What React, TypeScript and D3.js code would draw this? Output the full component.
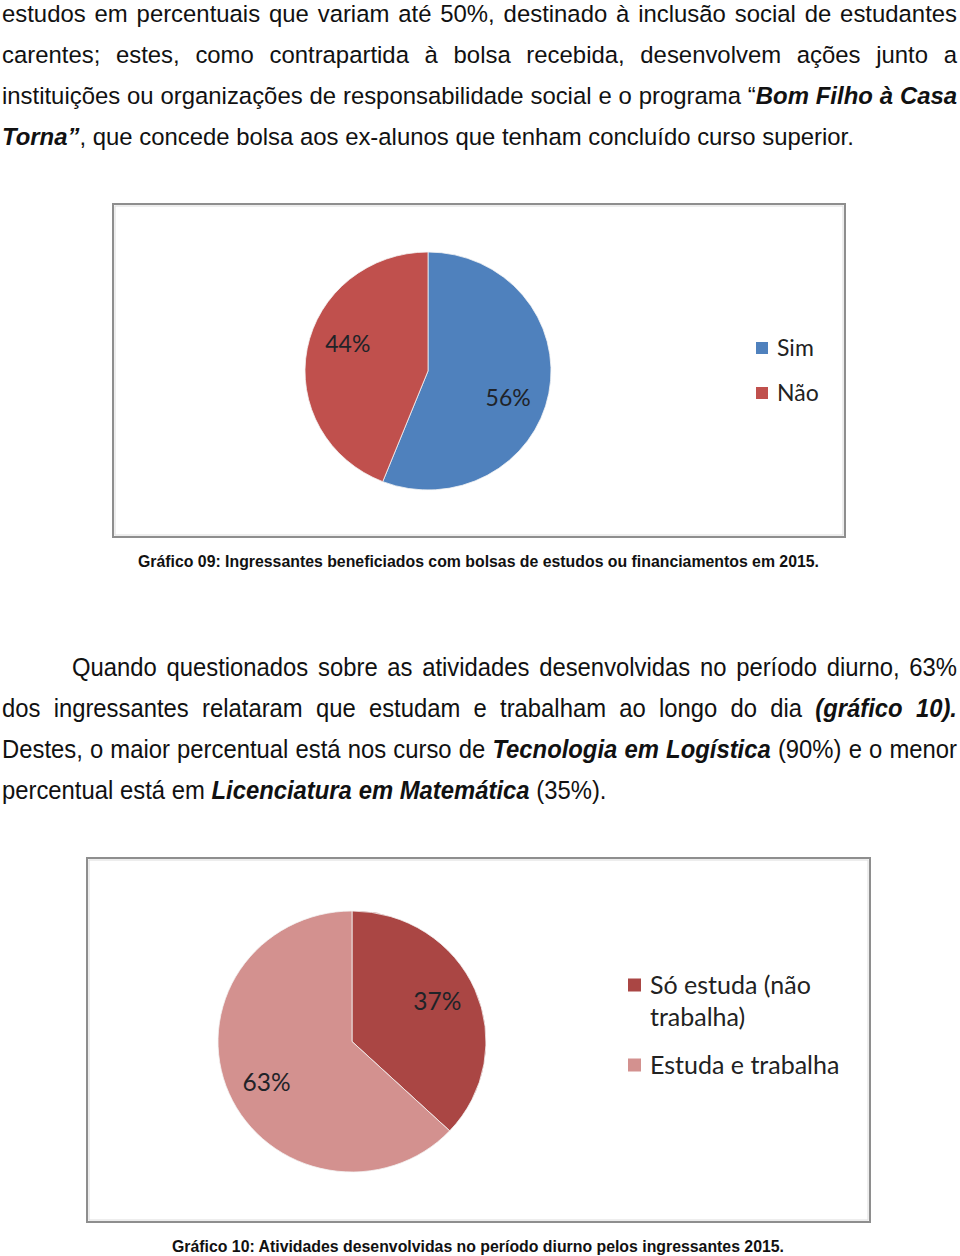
import React, { useEffect, useRef } from "react";
import * as d3 from "d3";

// ---------- data ----------
const para1Lines = [
  "estudos em percentuais que variam até 50%, destinado à inclusão social de estudantes",
  "carentes; estes, como contrapartida à bolsa recebida, desenvolvem ações junto a",
  "instituições ou organizações de responsabilidade social e o programa “*Bom Filho à Casa*",
  "*Torna”*, que concede bolsa aos ex-alunos que tenham concluído curso superior.",
];
const para1Justify = [true, true, true, false];

const para2Lines = [
  "Quando questionados sobre as atividades desenvolvidas no período diurno, 63%",
  "dos ingressantes relataram que estudam e trabalham ao longo do dia *(gráfico 10).*",
  "Destes, o maior percentual está nos curso de *Tecnologia em Logística* (90%) e o menor",
  "percentual está em *Licenciatura em Matemática* (35%).",
];
const para2Justify = [true, true, true, false];

const chart1Categories = ["Sim", "Não"];
const chart1Values = [56, 44];
const chart1Colors = ["#4F81BD", "#C0504D"];
const chart1LegendLines = [["Sim"], ["Não"]];
const chart1Caption =
  "Gráfico 09: Ingressantes beneficiados com bolsas de estudos ou financiamentos em 2015.";

const chart2Categories = ["Só estuda (não trabalha)", "Estuda e trabalha"];
const chart2Values = [37, 63];
const chart2Colors = ["#AA4644", "#D3918F"];
const chart2LegendLines = [["Só estuda (não", "trabalha)"], ["Estuda e trabalha"]];
const chart2Caption =
  "Gráfico 10: Atividades desenvolvidas no período diurno pelos ingressantes 2015.";

// ---------- styles ----------
const bodyFont = "'Liberation Sans', Arial, Helvetica, sans-serif";
const chartFont = "Lato, 'Open Sans', sans-serif";

export default function App() {
  const ref = useRef<SVGSVGElement | null>(null);

  useEffect(() => {
    const svg = d3.select(ref.current);
    svg.selectAll("*").remove();

    const drawParagraph = (
      lines: string[],
      justify: boolean[],
      font: string,
      size: number,
      sx: number,
      left: number,
      right: number,
      firstIndent: number,
      baselines: number[]
    ) => {
      const g = svg.append("g").attr("font-family", font).attr("font-size", size).attr("fill", "#111");
      const t1 = g.append("text").style("white-space", "pre").text("a a");
      const t2 = g.append("text").style("white-space", "pre").text("aa");
      const spaceW =
        ((t1.node() as SVGTextElement).getComputedTextLength() -
          (t2.node() as SVGTextElement).getComputedTextLength()) * sx;
      t1.remove();
      t2.remove();
      lines.forEach((line, li) => {
        let bold = false;
        const words = line.split(" ");
        const els: any[] = [];
        const widths: number[] = [];
        words.forEach((w) => {
          const t = g.append("text");
          const parts = w.split("*");
          parts.forEach((p, i) => {
            if (i > 0) bold = !bold;
            if (p.length)
              t.append("tspan")
                .attr("font-weight", bold ? "bold" : "normal")
                .attr("font-style", bold ? "italic" : "normal")
                .text(p);
          });
          els.push(t);
          widths.push((t.node() as SVGTextElement).getComputedTextLength() * sx);
        });
        const start = left + (li === 0 ? firstIndent : 0);
        const total = d3.sum(widths);
        const gap =
          justify[li] && words.length > 1 ? (right - start - total) / (words.length - 1) : spaceW;
        let x = start;
        els.forEach((t, i) => {
          t.attr("transform", `translate(${x},${baselines[li]}) scale(${sx},1)`);
          x += widths[i] + gap;
        });
      });
    };

    drawParagraph(para1Lines, para1Justify, bodyFont, 23.9, 1, 2, 957, 0, [22, 63, 104, 145]);
    drawParagraph(para2Lines, para2Justify, bodyFont, 26.5, 0.9, 2, 957, 70, [676, 717, 758, 799]);

    const drawChart = (
      frame: [number, number, number, number],
      cx: number,
      cy: number,
      rx: number,
      ry: number,
      cats: string[],
      values: number[],
      colors: string[],
      legendLines: string[][],
      legendX: number,
      legendY: number[],
      legendSize: number,
      legendLead: number,
      sq: number,
      labelSize: number,
      labelR: number,
      labelRot: number
    ) => {
      const [fx, fy, fw, fh] = frame;
      svg.append("rect")
        .attr("x", fx).attr("y", fy).attr("width", fw).attr("height", fh)
        .attr("fill", "#fff").attr("stroke", "#8e8e8e").attr("stroke-width", 2);
      svg.append("rect")
        .attr("x", fx + 2).attr("y", fy + 2).attr("width", fw - 4).attr("height", fh - 4)
        .attr("fill", "none").attr("stroke", "#dcdcdc").attr("stroke-width", 1);

      const data = cats.map((c, i) => ({ cat: c, value: values[i], color: colors[i] }));
      const pie = d3.pie<any>().sort(null).value((d: any) => d.value);
      const arcs = pie(data);
      const arc = d3.arc<any>().innerRadius(0).outerRadius(rx);
      const k = ry / rx;
      const pg = svg.append("g").attr("transform", `translate(${cx},${cy}) scale(1,${k})`);
      pg.selectAll("path").data(arcs).join("path")
        .attr("d", arc as any)
        .attr("fill", (d: any) => d.data.color)
        .attr("stroke", "#f4f4f4").attr("stroke-width", 0.8);

      const labelPos = (d: any) => {
        const a = (d.startAngle + d.endAngle) / 2 + labelRot;
        return [cx + Math.sin(a) * labelR, cy - Math.cos(a) * labelR * k];
      };
      svg.append("g")
        .attr("font-family", chartFont).attr("font-size", labelSize).attr("fill", "#1f2328")
        .attr("text-anchor", "middle")
        .selectAll("text").data(arcs).join("text")
        .attr("x", (d: any) => labelPos(d)[0])
        .attr("y", (d: any) => labelPos(d)[1])
        .attr("dy", "0.35em")
        .text((d: any) => `${d.data.value}%`);

      const lg = svg.append("g").attr("font-family", chartFont).attr("font-size", legendSize).attr("fill", "#222");
      data.forEach((d, i) => {
        lg.append("rect")
          .attr("x", legendX).attr("y", legendY[i] - sq / 2)
          .attr("width", sq).attr("height", sq).attr("fill", d.color);
        legendLines[i].forEach((ln, j) => {
          lg.append("text")
            .attr("x", legendX + sq + 9)
            .attr("y", legendY[i] + j * legendLead)
            .attr("dy", "0.35em")
            .text(ln);
        });
      });
    };

    drawChart([113, 204, 732, 333], 428, 371, 123, 119, chart1Categories, chart1Values, chart1Colors,
      chart1LegendLines, 756, [348, 393], 23, 32, 12, 23, 85, 0.15);
    drawChart([87, 858, 783, 364], 352, 1041.5, 134, 130.5, chart2Categories, chart2Values, chart2Colors,
      chart2LegendLines, 628, [985, 1065], 25, 32, 13, 24.5, 95, -0.045);

    const cap = svg.append("g").attr("font-family", bodyFont).attr("font-weight", "bold")
      .attr("font-size", 16).attr("fill", "#111").attr("text-anchor", "middle");
    cap.append("text").attr("x", 478.5).attr("y", 567)
      .attr("textLength", 681).attr("lengthAdjust", "spacingAndGlyphs").text(chart1Caption);
    cap.append("text").attr("x", 478).attr("y", 1252)
      .attr("textLength", 612).attr("lengthAdjust", "spacingAndGlyphs").text(chart2Caption);
  }, []);

  return (
    <svg
      ref={ref}
      width={960}
      height={1256}
      style={{ position: "absolute", left: 0, top: 0, background: "#fff" }}
    />
  );
}
